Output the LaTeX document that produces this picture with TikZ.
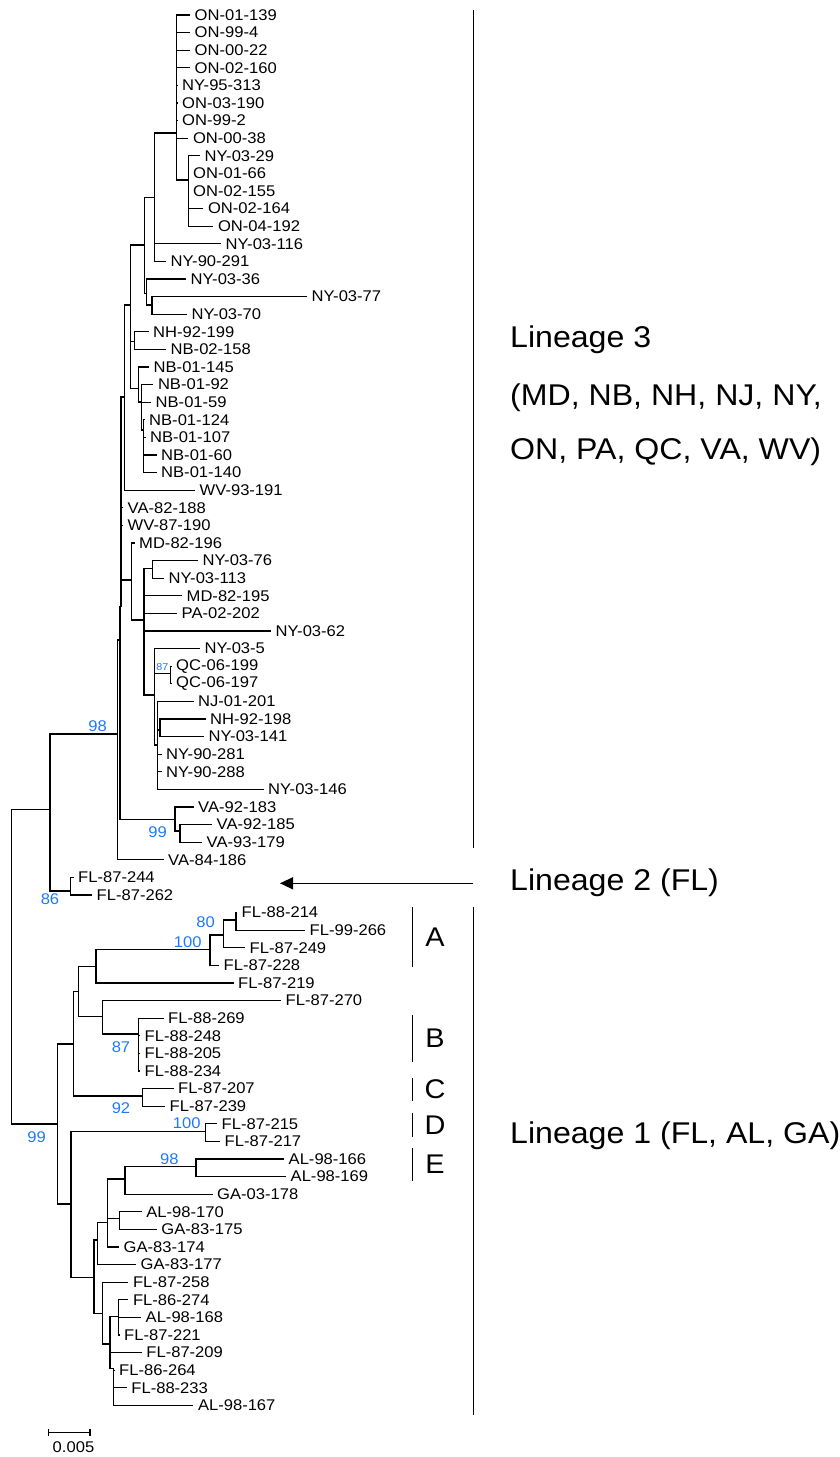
\documentclass[tikz,border=0pt]{standalone}
\usepackage{fontspec}
\setmainfont{Liberation Sans}[FakeStretch=1.07]
\usetikzlibrary{arrows.meta}
\definecolor{bsblue}{RGB}{30,120,255}

\begin{document}
\begin{tikzpicture}[x=1pt,y=-1pt,
    branch/.style={line width=1.3pt},
    leaf/.style={anchor=west,inner sep=0pt,xshift=4.5pt,font=\fontsize{15.5}{15.5}\selectfont},
    boot/.style={text=bsblue,inner sep=0pt,font=\fontsize{15.5}{15.5}\selectfont},
    bar/.style={line width=1.4pt},
    lin/.style={anchor=west,inner sep=0pt,font=\fontsize{30}{30}\selectfont},
    clade/.style={inner sep=0pt,font=\fontsize{27}{27}\selectfont}]
\useasboundingbox (0,0) rectangle (839,1457);

% internal nodes: name/x/y
\foreach \nm/\x/\y in {root/11.7/966, l23/50/809.3, l3/117.3/734, a9/120/640,
    a7/121/607, a6/124.5/397, a4/130.5/305, a2/144.3/245, a1/154.3/197.3,
    on/176.7/133, on2/188.3/180, a3/146.7/293.3, a5/152/305, nh/134.3/341.7,
    nb/138.3/388.3, nb2/141.7/402, nb3/143.3/430, md/131.7/580, md2/144/620,
    ny76/152.3/568.3, qn/154.3/695, qc/170.7/673.3, nj/157.3/745, nj2/160/730,
    va/175/819.3, va2/180/831, l2/70.7/891, l1/57.3/1124, c1/73.3/1044,
    c3/78.3/991.7, c4/96/966.7, cA/210/949.3, cA1/223.3/935, cA2/236/920,
    cB/102.7/1016.7, cB2/138.3/1034, cC/142.7/1096, c2/71/1204, cD/205.7/1131.7,
    c6/94/1277.3, c7/97.7/1240, c5/107.3/1222.3, ag/125/1179, al/196/1166.7,
    ag2/119.3/1218.3, c8/102.3/1313.3, c9/110/1344, c10/118.3/1316.7,
    c11/113.3/1368.3}
  \coordinate (\nm) at (\x,\y);

% internal branches: child/parent
\foreach \kid/\up in {l23/root, l1/root, l3/l23, l2/l23, a9/l3, a7/a9, va/a9,
    a6/a7, md/a7, a4/a6, a2/a4, nh/a4, nb/a4, a1/a2, a3/a2, on/a1, on2/on,
    a5/a3, nb2/nb, nb3/nb2, md2/md, ny76/md2, qn/md2, qc/qn, nj/qn, nj2/nj,
    va2/va, c1/l1, c2/l1, c3/c1, cC/c1, c4/c3, cB/c3, cA/c4, cA1/cA, cA2/cA1,
    cB2/cB, cD/c2, c6/c2, c7/c6, c8/c6, c5/c7, ag/c5, ag2/c5, al/ag, c9/c8,
    c10/c9, c11/c9}
  \draw[branch] (\up) |- (\kid);

% leaves: label/tip x/parent
\foreach \lab/\tip/\up [count=\i from 0] in {ON-01-139/190/on, ON-99-4/190/on,
    ON-00-22/190/on, ON-02-160/190/on, NY-95-313/177.5/on, ON-03-190/177.5/on,
    ON-99-2/177.5/on, ON-00-38/188.3/on, NY-03-29/200/on2, ON-01-66/188.5/on2,
    ON-02-155/188.5/on2, ON-02-164/203.3/on2, ON-04-192/213.3/on2,
    NY-03-116/221/a1, NY-90-291/166/a1, NY-03-36/186/a3, NY-03-77/307/a5,
    NY-03-70/187/a5, NH-92-199/148.5/nh, NB-02-158/166/nh, NB-01-145/149/nb,
    NB-01-92/153.3/nb2, NB-01-59/151/nb2, NB-01-124/144.5/nb3,
    NB-01-107/145.5/nb3, NB-01-60/156.5/nb3, NB-01-140/156.5/nb3,
    WV-93-191/195/a6, VA-82-188/123/a7, WV-87-190/123/a7, MD-82-196/134.5/md,
    NY-03-76/198/ny76, NY-03-113/164/ny76, MD-82-195/182/md2,
    PA-02-202/177/md2, NY-03-62/271/md2, NY-03-5/200/qn, QC-06-199/171.5/qc,
    QC-06-197/171.5/qc, NJ-01-201/193.5/nj, NH-92-198/205.5/nj2,
    NY-03-141/204/nj2, NY-90-281/161.5/nj, NY-90-288/161.5/nj,
    NY-03-146/263.5/nj, VA-92-183/193.5/va, VA-92-185/212/va2,
    VA-93-179/202/va2, VA-84-186/163.5/l3, FL-87-244/73.5/l2, FL-87-262/92/l2,
    FL-88-214/237/cA2, FL-99-266/305/cA2, FL-87-249/245/cA1, FL-87-228/219/cA,
    FL-87-219/233.5/c4, FL-87-270/281/cB, FL-88-269/163.5/cB2,
    FL-88-248/140/cB2, FL-88-205/140/cB2, FL-88-234/140/cB2,
    FL-87-207/173.5/cC, FL-87-239/165/cC, FL-87-215/217/cD, FL-87-217/220/cD,
    AL-98-166/284/al, AL-98-169/286/al, GA-03-178/212.5/ag,
    AL-98-170/141.7/ag2, GA-83-175/156.7/ag2, GA-83-174/119/c5,
    GA-83-177/136/c7, FL-87-258/128.3/c8, FL-86-274/128.3/c10,
    AL-98-168/141/c10, FL-87-221/119.5/c10, FL-87-209/141.7/c9,
    FL-86-264/114.5/c11, FL-88-233/126.7/c11, AL-98-167/193.3/c11} {
  \pgfmathsetmacro{\yy}{15+17.6*\i}
  \coordinate (t\i) at (\tip,\yy);
  \draw[branch] (\up) |- (t\i);
  \node[leaf] (n\i) at (t\i) {\lab};
}

% bootstrap values
\node[boot] (bs1) at (97.7,726) {98};
\node[boot] (bs2) at (157.7,832.3) {99};
\node[boot] (bs3) at (50,899.5) {86};
\node[boot] (bs4) at (205.7,921.7) {80};
\node[boot] (bs5) at (187.7,941.7) {100};
\node[boot] (bs6) at (121,1047.3) {87};
\node[boot] (bs7) at (121,1108.3) {92};
\node[boot] (bs8) at (186.7,1123.3) {100};
\node[boot] (bs9) at (169.3,1159) {98};
\node[boot] (bs10) at (36.7,1136.7) {99};
\node[boot,font=\fontsize{10}{10}\selectfont] (bs11) at (162.3,666.7) {87};

% lineage bars and labels
\draw[bar] (473.3,10) -- (473.3,848);
\draw[bar] (473.3,907.3) -- (473.3,1415);
\coordinate (l2tail) at (473.3,883.3);
\coordinate (l2tip) at (280,883.3);
\draw[bar,-{Triangle[length=13pt,width=12pt]}] (l2tail) -- (l2tip);
\node[lin] (lin3) at (510,340) {Lineage 3};
\node[lin] (lin3a) at (510,398) {(MD, NB, NH, NJ, NY,};
\node[lin] (lin3b) at (510,452) {ON, PA, QC, VA, WV)};
\node[lin] (lin2) at (510,883) {Lineage 2 (FL)};
\node[lin] (lin1) at (510,1136) {Lineage 1 (FL, AL, GA)};

% clades A-E
\foreach \c/\ya/\yb in {A/907.3/967.3, B/1015/1062, C/1078/1101,
    D/1113/1137, E/1148/1181} {
  \draw[bar] (412.7,\ya) -- (412.7,\yb);
  \node[clade] (cl\c) at (435,{(\ya+\yb)/2}) {\c};
}

% scale bar
\draw[branch] (48.3,1428.5) -- (48.3,1436) (48.3,1432.3) -- (90,1432.3)
  (90,1428.5) -- (90,1436);
\node[leaf,anchor=center,xshift=0pt] (scale) at (69,1447) {0.005};
\end{tikzpicture}
\end{document}
